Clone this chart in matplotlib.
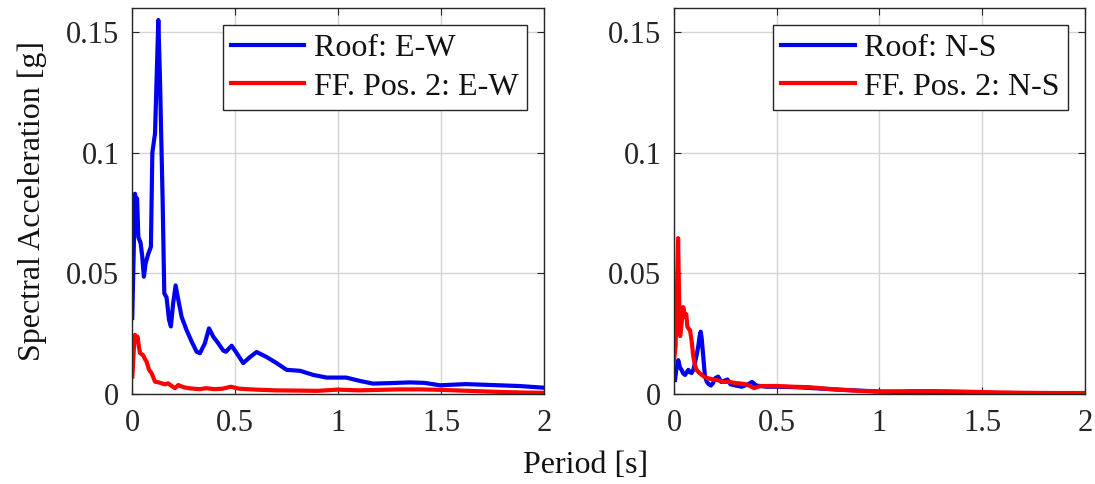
import matplotlib
matplotlib.use("Agg")
import matplotlib.pyplot as plt

plt.rcParams['font.family'] = ['Liberation Serif', 'DejaVu Serif']
plt.rcParams['mathtext.fontset'] = 'stix'

# ---------------- data ----------------
period_roof_ew = [0.0015, 0.0146, 0.020, 0.025, 0.031, 0.042, 0.050, 0.058, 0.066, 0.079, 0.092,
                  0.099, 0.112, 0.128, 0.136, 0.149, 0.157, 0.168, 0.180, 0.189, 0.200, 0.212,
                  0.225, 0.241, 0.265, 0.290, 0.314, 0.330, 0.354, 0.374, 0.395, 0.419, 0.443,
                  0.456, 0.484, 0.508, 0.540, 0.573, 0.605, 0.654, 0.702, 0.751, 0.816, 0.880,
                  0.945, 1.010, 1.040, 1.107, 1.170, 1.250, 1.350, 1.420, 1.495, 1.620, 1.750,
                  1.880, 2.000]
sa_roof_ew = [0.0315, 0.083, 0.080, 0.081, 0.065, 0.0626, 0.057, 0.0486, 0.054, 0.058, 0.061,
              0.100, 0.108, 0.155, 0.131, 0.080, 0.0417, 0.040, 0.0307, 0.028, 0.0376, 0.045,
              0.039, 0.032, 0.0265, 0.0217, 0.0175, 0.0169, 0.021, 0.0272, 0.0237, 0.021, 0.018,
              0.0175, 0.020, 0.017, 0.0128, 0.0153, 0.0174, 0.0153, 0.0128, 0.010, 0.0096, 0.0079,
              0.0068, 0.0068, 0.0068, 0.0054, 0.0043, 0.0045, 0.0048, 0.0046, 0.0036, 0.0041,
              0.0037, 0.0033, 0.0026]

period_ff_ew = [0.002, 0.010, 0.015, 0.022, 0.027, 0.033, 0.039, 0.047, 0.055, 0.063, 0.071,
                0.083, 0.095, 0.112, 0.130, 0.144, 0.160, 0.176, 0.190, 0.209, 0.225, 0.250,
                0.275, 0.300, 0.330, 0.360, 0.400, 0.440, 0.480, 0.520, 0.600, 0.700, 0.800,
                0.900, 1.000, 1.100, 1.200, 1.300, 1.400, 1.500, 1.600, 1.700, 1.800, 1.900, 2.000]
sa_ff_ew = [0.0072, 0.020, 0.0245, 0.022, 0.0238, 0.020, 0.017, 0.0165, 0.016, 0.0145, 0.0134,
            0.010, 0.0087, 0.0051, 0.0048, 0.0044, 0.0040, 0.0044, 0.0035, 0.0024, 0.0037, 0.0028,
            0.0024, 0.0022, 0.0020, 0.0024, 0.0020, 0.0022, 0.0030, 0.0022, 0.0018, 0.0015, 0.0014,
            0.0013, 0.0018, 0.0015, 0.0017, 0.0019, 0.0019, 0.0017, 0.0014, 0.0011, 0.0008,
            0.0006, 0.0005]

period_roof_ns = [0.005, 0.013, 0.021, 0.029, 0.037, 0.045, 0.054, 0.062, 0.070, 0.078, 0.086,
                  0.094, 0.102, 0.110, 0.118, 0.125, 0.130, 0.135, 0.140, 0.146, 0.151, 0.160,
                  0.170, 0.180, 0.190, 0.200, 0.215, 0.230, 0.245, 0.260, 0.275, 0.300, 0.330,
                  0.360, 0.380, 0.400, 0.450, 0.500, 0.600, 0.700, 0.800, 0.900, 1.000, 1.100,
                  1.200, 1.300, 1.400, 1.500, 1.600, 1.700, 1.800, 1.900, 2.000]
sa_roof_ns = [0.0058, 0.011, 0.014, 0.011, 0.010, 0.0085, 0.0079, 0.009, 0.010, 0.009, 0.0087,
              0.010, 0.0128, 0.016, 0.0196, 0.024, 0.0258, 0.023, 0.018, 0.012, 0.0072, 0.005,
              0.004, 0.0035, 0.0045, 0.0065, 0.0072, 0.005, 0.0055, 0.006, 0.004, 0.0035, 0.003,
              0.004, 0.005, 0.0035, 0.003, 0.003, 0.0028, 0.0023, 0.0018, 0.0014, 0.0010, 0.0008,
              0.0007, 0.0005, 0.0004, 0.0003, 0.0002, 0.0002, 0.0001, 0.0001, 0.0001]

period_ff_ns = [0.000, 0.008, 0.015, 0.020, 0.025, 0.030, 0.038, 0.045, 0.054, 0.060, 0.065,
                0.072, 0.078, 0.086, 0.094, 0.102, 0.110, 0.120, 0.135, 0.150, 0.167, 0.190,
                0.208, 0.240, 0.270, 0.300, 0.320, 0.350, 0.370, 0.390, 0.420, 0.460, 0.500,
                0.580, 0.660, 0.740, 0.820, 0.900, 0.990, 1.080, 1.160, 1.250, 1.350, 1.450,
                1.550, 1.700, 1.850, 2.000]
sa_ff_ns = [0.0134, 0.020, 0.045, 0.0646, 0.040, 0.024, 0.030, 0.036, 0.032, 0.033, 0.028,
            0.027, 0.0265, 0.022, 0.0155, 0.012, 0.010, 0.009, 0.0079, 0.007, 0.0065, 0.006,
            0.0058, 0.005, 0.005, 0.0045, 0.0044, 0.004, 0.0033, 0.0024, 0.0033, 0.0033, 0.0033,
            0.003, 0.0028, 0.0022, 0.0017, 0.0013, 0.0010, 0.0011, 0.0012, 0.0012, 0.0011,
            0.0009, 0.0007, 0.0005, 0.0004, 0.0004]

x_ticks = [0, 0.5, 1, 1.5, 2]
x_ticklabels = ['0', '0.5', '1', '1.5', '2']
y_ticks = [0, 0.05, 0.1, 0.15]
y_ticklabels = ['0', '0.05', '0.1', '0.15']

labels_left = ['Roof: E-W', 'FF. Pos. 2: E-W']
labels_right = ['Roof: N-S', 'FF. Pos. 2: N-S']

# ---------------- figure ----------------
fig = plt.figure(figsize=(10.95, 4.84), dpi=100)
ax1 = fig.add_axes([0.1205, 0.1860, 0.3763, 0.7975])
ax2 = fig.add_axes([0.6155, 0.1860, 0.3753, 0.7975])

axis_col = '#262626'
FS = 23

def style(ax, series, labels):
    (t1, s1), (t2, s2) = series
    ax.plot(t1, s1, color='#0000f0', lw=3.0, label=labels[0], solid_joinstyle='round')
    ax.plot(t2, s2, color='#ff0000', lw=3.0, label=labels[1], solid_joinstyle='round')
    ax.set_xlim(0, 2)
    ax.set_ylim(0, 0.16)
    ax.set_xticks(x_ticks)
    ax.set_xticklabels(x_ticklabels)
    ax.set_yticks(y_ticks)
    ax.set_yticklabels(y_ticklabels)
    ax.grid(True, color='#d4d4d4', lw=1.0)
    ax.set_axisbelow(True)
    ax.tick_params(direction='in', length=5, width=0.8, colors=axis_col,
                   top=True, right=True, labelsize=22, labelcolor='#262626')
    ax.tick_params(axis='x', pad=11)
    ax.tick_params(axis='y', pad=9)
    for sp in ax.spines.values():
        sp.set_color(axis_col)
        sp.set_linewidth(1.0)
    leg = ax.legend(loc='upper right', bbox_to_anchor=(0.958, 0.955), fontsize=FS,
                    frameon=True, fancybox=False, framealpha=1, edgecolor='#262626',
                    handlelength=2.3, handletextpad=0.3, labelspacing=0.3,
                    borderpad=0.25, borderaxespad=0)
    leg.get_frame().set_linewidth(1.0)
    for txt in leg.get_texts():
        txt.set_color('#111111')

style(ax1, [(period_roof_ew, sa_roof_ew), (period_ff_ew, sa_ff_ew)], labels_left)
style(ax2, [(period_roof_ns, sa_roof_ns), (period_ff_ns, sa_ff_ns)], labels_right)

ax1.set_ylabel('Spectral Acceleration [g]', fontsize=FS, color='#111111', labelpad=14)
fig.text(0.535, 0.038, 'Period [s]', fontsize=FS, ha='center', va='center', color='#111111')

fig.savefig('out.png', dpi=100)
